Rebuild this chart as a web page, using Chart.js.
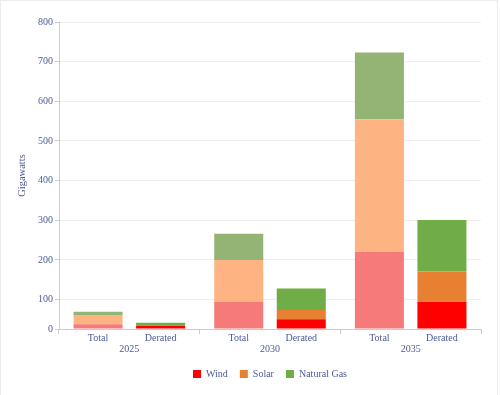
<!DOCTYPE html>
<html>
<head>
<meta charset="utf-8">
<script src="https://cdn.jsdelivr.net/npm/chart.js@4/dist/chart.umd.min.js"></script>
<style>
  html, body { margin: 0; padding: 0; background: #fff; }
  #wrap { position: relative; width: 500px; height: 395px; }
  #frame { position: absolute; left: 0; top: 0; width: 498px; height: 395px; box-sizing: border-box;
           border: 1px solid #ececec; border-bottom: none; pointer-events: none; }
</style>
</head>
<body>
<div id="wrap">
  <canvas id="c" width="500" height="395"></canvas>
  <div id="frame"></div>
</div>
<script>
// ---- data ----
const years = ['2025', '2030', '2035'];
const subLabels = ['Total', 'Derated'];
const sources = ['Wind', 'Solar', 'Natural Gas'];
const windTotal = [16, 92, 221];
const solarTotal = [32, 108, 334];
const gasTotal = [11, 66, 168];
const windDerated = [10, 33, 92];
const solarDerated = [4, 32, 79];
const gasDerated = [7, 63, 130];
const yTicks = [0, 100, 200, 300, 400, 500, 600, 700, 800];

// ---- styles ----
const TEXT = '#4c5a97';
const FONT = "'Liberation Serif', 'Times New Roman', serif";
const totalColors = ['#f77a7a', '#fdb482', '#93b474'];
const deratedColors = ['#ff0000', '#e88032', '#70ad47'];

// y axis in the reference: the 0-100 band is drawn shorter than the other 100-steps
const BREAK = 100, FIRST_W = 0.741;
class BrokenLinearScale extends Chart.LinearScale {
  _f(v) { return v <= BREAK ? (v / BREAK) * FIRST_W : FIRST_W + (v - BREAK) / BREAK; }
  getPixelForValue(value) {
    if (value === null || value === undefined || isNaN(value)) return NaN;
    return this.getPixelForDecimal(this._f(value) / this._f(this.max));
  }
  getValueForPixel(pixel) {
    const t = this.getDecimalForPixel(pixel) * this._f(this.max);
    return t <= FIRST_W ? (t / FIRST_W) * BREAK : BREAK + (t - FIRST_W) * BREAK;
  }
}
BrokenLinearScale.id = 'brokenLinear';
BrokenLinearScale.defaults = Chart.LinearScale.defaults;
Chart.register(BrokenLinearScale);

const totals = [windTotal, solarTotal, gasTotal];
const derated = [windDerated, solarDerated, gasDerated];
const datasets = [];
sources.forEach((s, i) => datasets.push({ label: s, data: totals[i], backgroundColor: totalColors[i], stack: 'Total' }));
sources.forEach((s, i) => datasets.push({ label: s, data: derated[i], backgroundColor: deratedColors[i], stack: 'Derated' }));

const subLabelPlugin = {
  id: 'subLabels',
  afterDraw(chart) {
    const ctx = chart.ctx;
    const y = chart.chartArea.bottom + 9;
    ctx.save();
    ctx.font = '10px ' + FONT;
    ctx.fillStyle = TEXT;
    ctx.textAlign = 'center';
    ctx.textBaseline = 'middle';
    [0, 3].forEach((di, k) => {
      chart.getDatasetMeta(di).data.forEach(bar => ctx.fillText(subLabels[k], bar.x, y));
    });
    ctx.restore();
  }
};

new Chart(document.getElementById('c'), {
  type: 'bar',
  data: { labels: years, datasets },
  plugins: [subLabelPlugin],
  options: {
    responsive: false,
    animation: false,
    layout: { padding: { top: 22, right: 19, bottom: 6, left: 0 } },
    datasets: { bar: { categoryPercentage: 0.889, barPercentage: 0.784 } },
    plugins: {
      tooltip: { enabled: false },
      legend: {
        position: 'bottom',
        fullSize: false,
        labels: {
          filter: item => item.datasetIndex >= 3,
          boxWidth: 8, boxHeight: 8, padding: 12,
          color: TEXT, font: { family: FONT, size: 10 }
        }
      }
    },
    scales: {
      x: {
        stacked: true,
        grid: { display: true, offset: true, drawOnChartArea: false, tickLength: 5, tickColor: '#cccccc' },
        border: { color: '#cccccc' },
        ticks: { color: TEXT, font: { family: FONT, size: 10 }, padding: 9 },
        afterFit: s => { s.height = 28; }
      },
      y: {
        type: 'brokenLinear',
        stacked: true,
        min: 0, max: 800,
        afterBuildTicks: s => { s.ticks = yTicks.map(v => ({ value: v })); },
        grid: { color: '#eeeeee', tickLength: 4, tickColor: '#cccccc' },
        border: { color: '#cccccc' },
        ticks: { color: TEXT, font: { family: FONT, size: 10 }, padding: 2 },
        title: { display: true, text: 'Gigawatts', color: TEXT, font: { family: FONT, size: 10.5 }, padding: { top: 16, bottom: 0 } },
        afterFit: s => { s.width = 59; }
      }
    }
  }
});
</script>
</body>
</html>
